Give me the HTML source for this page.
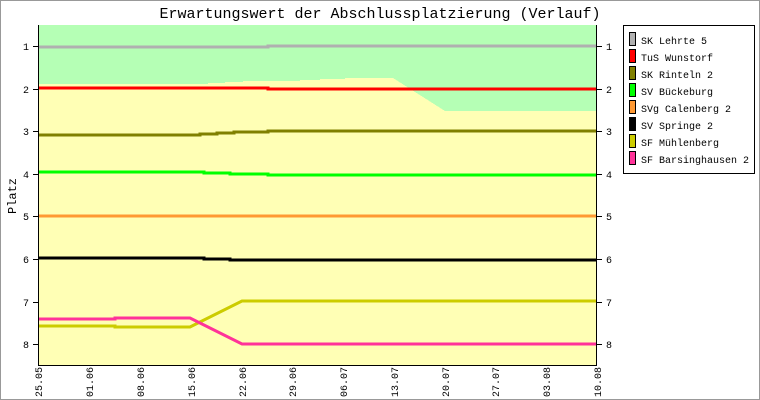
<!DOCTYPE html>
<html><head><style>
html,body{margin:0;padding:0;background:#fff}
svg{display:block}
text{font-family:"Liberation Mono","DejaVu Sans Mono",monospace}
</style></head><body>
<svg width="760" height="400" xmlns="http://www.w3.org/2000/svg" shape-rendering="crispEdges">
<rect x="0.5" y="0.5" width="759" height="399" fill="#fff" stroke="#999"/>
<text x="380" y="18" font-size="15" text-anchor="middle">Erwartungswert der Abschlussplatzierung (Verlauf)</text>
<rect x="38" y="25" width="559" height="340" fill="#ffffb5"/>
<polygon fill="#b5ffb5" points="38,25 597,25 597,111 445,111 393,78 345,78 345,79 320,79 320,80 300,80 300,81 243,81 243,82 225,82 225,83 208,83 208,84 38,84"/>
<g fill="none" stroke-width="3">
<polyline stroke="#b0b0b0" points="38,47 268,47 268,46 597,46"/>
<polyline stroke="#ff0000" points="38,88 268,88 268,89 597,89"/>
<polyline stroke="#808000" points="38,135 200,135 200,134 217,134 217,133 234,133 234,132 268,132 268,131 597,131"/>
<polyline stroke="#00ff00" points="38,172 204,172 204,173 230,173 230,174 268,174 268,175 597,175"/>
<polyline stroke="#ff9933" points="38,216 597,216"/>
<polyline stroke="#000" points="38,258 204,258 204,259 230,259 230,260 597,260"/>
<polyline stroke="#cccc00" points="38,326 115,326 115,327 190,327 242,301 597,301" shape-rendering="auto"/>
<polyline stroke="#ff3399" points="38,319 115,319 115,318 190,318 242,344 597,344" shape-rendering="auto"/>
</g>
<g stroke="#000" stroke-width="1">
<line x1="38.5" y1="25" x2="38.5" y2="366"/>
<line x1="596.5" y1="25" x2="596.5" y2="366"/>
<line x1="38" y1="365.5" x2="597" y2="365.5"/>
</g>
<g stroke="#000">
<path d="M33 46.5h5M33 89.5h5M33 131.5h5M33 174.5h5M33 216.5h5M33 259.5h5M33 302.5h5M33 344.5h5"/>
<path d="M597 46.5h5M597 89.5h5M597 131.5h5M597 174.5h5M597 216.5h5M597 259.5h5M597 302.5h5M597 344.5h5"/>
</g>
<g font-size="10" text-anchor="end">
<text x="29" y="50">1</text><text x="29" y="93">2</text><text x="29" y="135">3</text><text x="29" y="178">4</text><text x="29" y="220">5</text><text x="29" y="263">6</text><text x="29" y="306">7</text><text x="29" y="348">8</text>
</g>
<g font-size="10">
<text x="606" y="50">1</text><text x="606" y="93">2</text><text x="606" y="135">3</text><text x="606" y="178">4</text><text x="606" y="220">5</text><text x="606" y="263">6</text><text x="606" y="306">7</text><text x="606" y="348">8</text>
</g>
<text transform="translate(16,196) rotate(-90)" font-size="12" text-anchor="middle">Platz</text>
<g font-size="10" text-anchor="end">
<text transform="translate(42,397) rotate(-90)" text-anchor="start">25.05</text>
<text transform="translate(93,397) rotate(-90)" text-anchor="start">01.06</text>
<text transform="translate(144,397) rotate(-90)" text-anchor="start">08.06</text>
<text transform="translate(195,397) rotate(-90)" text-anchor="start">15.06</text>
<text transform="translate(246,397) rotate(-90)" text-anchor="start">22.06</text>
<text transform="translate(296,397) rotate(-90)" text-anchor="start">29.06</text>
<text transform="translate(347,397) rotate(-90)" text-anchor="start">06.07</text>
<text transform="translate(398,397) rotate(-90)" text-anchor="start">13.07</text>
<text transform="translate(449,397) rotate(-90)" text-anchor="start">20.07</text>
<text transform="translate(499,397) rotate(-90)" text-anchor="start">27.07</text>
<text transform="translate(550,397) rotate(-90)" text-anchor="start">03.08</text>
<text transform="translate(601,397) rotate(-90)" text-anchor="start">10.08</text>
</g>
<rect x="623.5" y="25.5" width="131" height="148" fill="#fff" stroke="#000"/>
<g stroke="#000" stroke-width="1">
<rect x="629.5" y="32.5" width="6" height="13" fill="#b0b0b0"/>
<rect x="629.5" y="49.5" width="6" height="13" fill="#ff0000"/>
<rect x="629.5" y="66.5" width="6" height="13" fill="#808000"/>
<rect x="629.5" y="83.5" width="6" height="13" fill="#00ff00"/>
<rect x="629.5" y="100.5" width="6" height="13" fill="#ff9933"/>
<rect x="629.5" y="117.5" width="6" height="13" fill="#000"/>
<rect x="629.5" y="134.5" width="6" height="13" fill="#cccc00"/>
<rect x="629.5" y="151.5" width="6" height="13" fill="#ff3399"/>
</g>
<g font-size="10">
<text x="641" y="44">SK Lehrte 5</text>
<text x="641" y="61">TuS Wunstorf</text>
<text x="641" y="78">SK Rinteln 2</text>
<text x="641" y="95">SV Bückeburg</text>
<text x="641" y="112">SVg Calenberg 2</text>
<text x="641" y="129">SV Springe 2</text>
<text x="641" y="146">SF Mühlenberg</text>
<text x="641" y="163">SF Barsinghausen 2</text>
</g>
</svg>
</body></html>
